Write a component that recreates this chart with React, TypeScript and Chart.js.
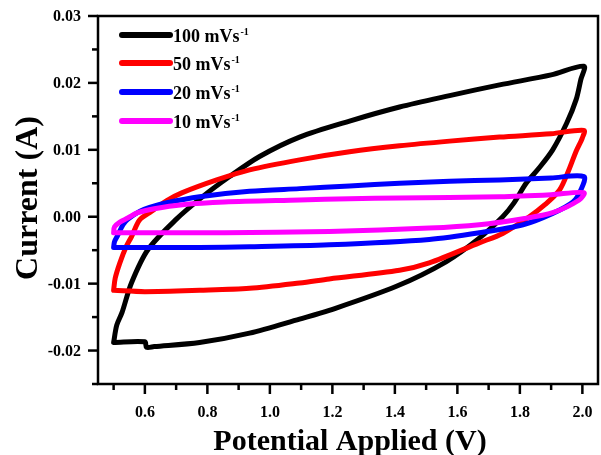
import React, { useEffect, useRef } from "react";
import { Chart, registerables } from "chart.js";

Chart.register(...registerables);

// ---- data ----
const scanRates = ["100", "50", "20", "10"];
const seriesColors = ["#000000", "#ff0000", "#0000ff", "#ff00ff"];

const potential100 = [0.5, 0.51, 0.527, 0.557, 0.61, 0.7, 0.785, 0.871, 0.967, 1.095, 1.255, 1.415, 1.575, 1.735, 1.9, 2.005, 1.995, 1.98, 1.95, 1.905, 1.86, 1.82, 1.78, 1.745, 1.67, 1.565, 1.405, 1.19, 1.095, 0.935, 0.775, 0.63, 0.605, 0.6, 0.5];
const current100 = [-0.0188, -0.0162, -0.0143, -0.0099, -0.0049, -0.0004, 0.003, 0.006, 0.009, 0.0119, 0.0143, 0.0164, 0.0181, 0.0197, 0.0212, 0.0225, 0.0205, 0.0175, 0.014, 0.01, 0.0072, 0.005, 0.002, 0.0, -0.0032, -0.0067, -0.0104, -0.014, -0.0153, -0.0174, -0.0188, -0.0194, -0.0195, -0.0187, -0.0188];

const potential50 = [0.5, 0.505, 0.52, 0.54, 0.557, 0.583, 0.615, 0.67, 0.72, 0.83, 0.935, 1.095, 1.255, 1.415, 1.575, 1.735, 1.9, 2.005, 2.0, 1.98, 1.955, 1.927, 1.88, 1.83, 1.745, 1.67, 1.51, 1.415, 1.19, 1.095, 0.935, 0.775, 0.6, 0.5];
const current50 = [-0.011, -0.0092, -0.0069, -0.0045, -0.003, -0.0005, 0.0006, 0.0024, 0.0036, 0.0055, 0.007, 0.0085, 0.0097, 0.0106, 0.0113, 0.0119, 0.0124, 0.0129, 0.0118, 0.0098, 0.0068, 0.004, 0.0018, 0.0, -0.0025, -0.0039, -0.0069, -0.008, -0.0093, -0.0099, -0.0107, -0.011, -0.0112, -0.011];

const potential20 = [0.5, 0.503, 0.513, 0.53, 0.545, 0.583, 0.615, 0.67, 0.775, 0.935, 1.095, 1.255, 1.415, 1.575, 1.735, 1.9, 2.005, 1.995, 1.97, 1.905, 1.81, 1.67, 1.51, 1.19, 0.935, 0.775, 0.6, 0.5];
const current20 = [-0.0046, -0.0037, -0.0028, -0.0012, -0.0004, 0.0008, 0.0014, 0.0021, 0.003, 0.0038, 0.0042, 0.0046, 0.005, 0.0053, 0.0055, 0.0058, 0.006, 0.004, 0.0022, 0.0005, -0.0012, -0.0024, -0.0034, -0.0042, -0.0045, -0.0046, -0.0046, -0.0046];

const potential10 = [0.5, 0.503, 0.52, 0.545, 0.577, 0.63, 0.72, 0.855, 1.095, 1.255, 1.415, 1.735, 1.9, 2.005, 1.99, 1.905, 1.81, 1.67, 1.51, 1.19, 0.855, 0.6, 0.5];
const current10 = [-0.0024, -0.0015, -0.0008, -0.0002, 0.0006, 0.0012, 0.0018, 0.0022, 0.0025, 0.0027, 0.0028, 0.003, 0.0033, 0.0036, 0.0025, 0.0006, -0.0003, -0.0012, -0.0017, -0.0022, -0.0024, -0.0024, -0.0024];

const xTicks = [0.5, 0.6, 0.7, 0.8, 0.9, 1.0, 1.1, 1.2, 1.3, 1.4, 1.5, 1.6, 1.7, 1.8, 1.9, 2.0];
const xLabelValues = [0.6, 0.8, 1.0, 1.2, 1.4, 1.6, 1.8, 2.0];
const xTickLabels = ["0.6", "0.8", "1.0", "1.2", "1.4", "1.6", "1.8", "2.0"];

const yTicks = [-0.025, -0.02, -0.015, -0.01, -0.005, 0.0, 0.005, 0.01, 0.015, 0.02, 0.025, 0.03];
const yLabelValues = [-0.02, -0.01, 0.0, 0.01, 0.02, 0.03];
const yTickLabels = ["-0.02", "-0.01", "0.00", "0.01", "0.02", "0.03"];

const xTitle = "Potential Applied (V)";
const yTitle = "Current (A)";

const SERIF = '"Liberation Serif", "Times New Roman", serif';

const allPotentials = [potential100, potential50, potential20, potential10];
const allCurrents = [current100, current50, current20, current10];

const framePlugin = {
  id: "cvFrame",
  afterDatasetsDraw(chart: any) {
    const { ctx, chartArea: a, scales } = chart;
    const x = scales.x;
    const y = scales.y;
    ctx.save();
    ctx.strokeStyle = "#000";
    ctx.fillStyle = "#000";
    ctx.lineWidth = 2.5;
    ctx.lineCap = "butt";
    ctx.strokeRect(a.left, a.top, a.right - a.left, a.bottom - a.top);

    const isIn = (arr: number[], v: number) => arr.some((m) => Math.abs(m - v) < 1e-9);

    xTicks.forEach((v) => {
      const px = x.getPixelForValue(v);
      const major = isIn(xLabelValues, v);
      ctx.beginPath();
      ctx.moveTo(px, a.bottom);
      ctx.lineTo(px, a.bottom + (major ? 10 : 6));
      ctx.stroke();
    });
    yTicks.forEach((v) => {
      const py = y.getPixelForValue(v);
      const major = isIn(yLabelValues, v);
      ctx.beginPath();
      ctx.moveTo(a.left, py);
      ctx.lineTo(a.left - (major ? 10 : 6), py);
      ctx.stroke();
    });

    ctx.font = "bold 16px " + SERIF;
    ctx.textAlign = "center";
    ctx.textBaseline = "middle";
    xLabelValues.forEach((v, i) => {
      ctx.fillText(xTickLabels[i], x.getPixelForValue(v), a.bottom + 29);
    });
    ctx.textAlign = "right";
    yLabelValues.forEach((v, i) => {
      ctx.fillText(yTickLabels[i], a.left - 17, y.getPixelForValue(v) + 1);
    });

    ctx.font = "bold 30px " + SERIF;
    ctx.textAlign = "center";
    ctx.textBaseline = "alphabetic";
    ctx.fillText(xTitle, 350, a.bottom + 66);

    ctx.save();
    ctx.font = "bold 32px " + SERIF;
    ctx.translate(37, 198);
    ctx.rotate(-Math.PI / 2);
    ctx.fillText(yTitle, 0, 0);
    ctx.restore();

    const rowY = [35, 63, 92, 121];
    scanRates.forEach((r, i) => {
      const yy = rowY[i];
      ctx.strokeStyle = seriesColors[i];
      ctx.lineWidth = 6;
      ctx.lineCap = "round";
      ctx.beginPath();
      ctx.moveTo(a.left + 24, yy);
      ctx.lineTo(a.left + 72, yy);
      ctx.stroke();
      ctx.fillStyle = "#000";
      ctx.font = "bold 18px " + SERIF;
      ctx.textAlign = "left";
      ctx.textBaseline = "alphabetic";
      const main = r + " mVs";
      const tx = a.left + 75;
      ctx.fillText(main, tx, yy + 7);
      const w = ctx.measureText(main).width;
      ctx.font = "bold 10px " + SERIF;
      ctx.fillText("-1", tx + w + 1, yy);
    });
    ctx.restore();
  },
};

export default function App() {
  const canvasRef = useRef<HTMLCanvasElement | null>(null);

  useEffect(() => {
    const canvas = canvasRef.current;
    if (!canvas) return;
    const datasets = scanRates.map((r, i) => ({
      label: r + " mVs\u207B\u00B9",
      data: allPotentials[i].map((p, k) => ({ x: p, y: allCurrents[i][k] })),
      showLine: true,
      borderColor: seriesColors[i],
      backgroundColor: seriesColors[i],
      borderWidth: 5,
      pointRadius: 0,
      pointHoverRadius: 0,
      tension: 0.3,
      borderJoinStyle: "round" as const,
      borderCapStyle: "round" as const,
      order: 4 - i,
      fill: false,
    }));
    const chart = new Chart(canvas, {
      type: "scatter",
      data: { datasets },
      options: {
        animation: false,
        responsive: false,
        devicePixelRatio: 1,
        layout: { padding: { left: 98, top: 16, right: 3, bottom: 71 } },
        plugins: { legend: { display: false }, tooltip: { enabled: false } },
        scales: {
          x: { type: "linear", min: 0.45, max: 2.05, display: false },
          y: { type: "linear", min: -0.025, max: 0.03, display: false },
        },
      },
      plugins: [framePlugin],
    });
    return () => chart.destroy();
  }, []);

  return (
    <div style={{ position: "absolute", left: 0, top: 0, width: 601, height: 455, background: "#fff" }}>
      <canvas ref={canvasRef} width={601} height={455} style={{ display: "block" }} />
    </div>
  );
}
